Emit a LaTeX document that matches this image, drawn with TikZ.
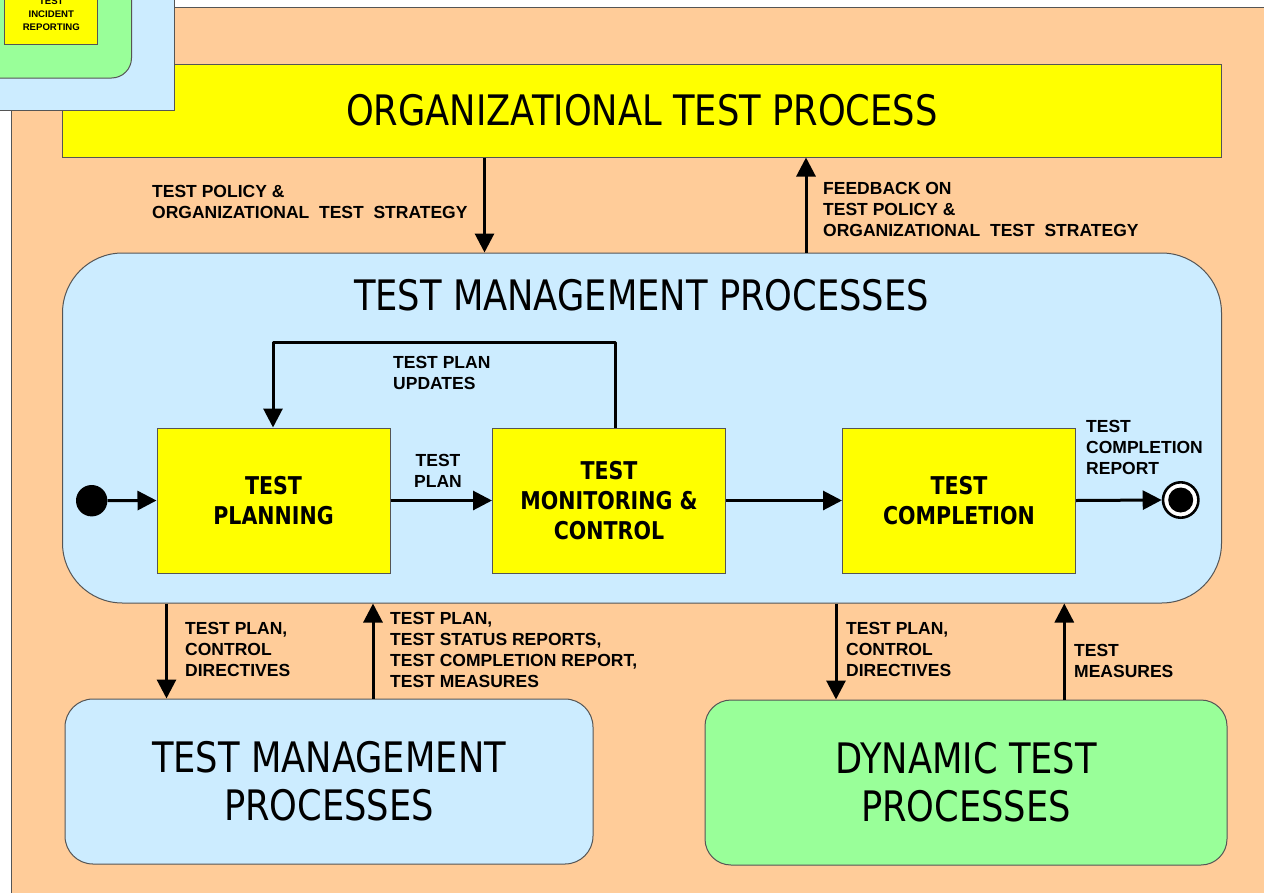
\documentclass[tikz,border=0pt]{standalone}
\usepackage{fontspec}
\setmainfont{Liberation Sans}
\newfontfamily\titlefont[FakeStretch=0.84]{DejaVu Sans}
\usetikzlibrary{arrows.meta}
\definecolor{peach}{HTML}{FFCC99}
\definecolor{lblue}{HTML}{CCECFF}
\definecolor{lgreen}{HTML}{99FF99}
\definecolor{yel}{HTML}{FFFF00}
\definecolor{edge}{HTML}{555555}
\tikzset{
  boxbase/.style={rectangle, draw=edge, line width=1pt, inner sep=0pt, align=center},
  ybox/.style={boxbase, fill=yel},
  stepbox/.style={ybox, minimum width=233pt, minimum height=145pt,
     font=\titlefont\bfseries\fontsize{24.5}{30}\selectfont},
  titletext/.style={font=\titlefont\fontsize{42}{48}\selectfont, inner sep=0pt, align=center},
  lbl/.style={font=\bfseries\fontsize{17.5}{21}\selectfont, inner sep=0pt, align=left, anchor=base west},
  arr/.style={line width=3pt, -{Triangle[width=19pt,length=19pt]}, line join=round},
}
\begin{document}
\begin{tikzpicture}[x=1pt,y=-1pt]
\useasboundingbox (0,0) rectangle (1264,892);
% page background
\fill[white] (0,0) rectangle (1264,892);
\draw[draw=edge, line width=1pt, fill=peach] (11,7) rectangle (1275,905);

% organizational test process
\node[ybox, minimum width=1159.5pt, minimum height=93pt, titletext] (org) at (641.75,110.5) {ORGANIZATIONAL TEST PROCESS};

% test management processes (big)
\node[boxbase, fill=lblue, rounded corners=60pt, minimum width=1159pt, minimum height=350pt] (tmp) at (642,428) {};
\node[titletext] (tmptitle) at (641.5,295) {TEST MANAGEMENT PROCESSES};

% steps
\node[stepbox] (plan) at (273.5,500.5) {TEST\\PLANNING};
\node[stepbox] (mon) at (609,500.5) {TEST\\MONITORING \&\\CONTROL};
\node[stepbox] (comp) at (959,500.5) {TEST\\COMPLETION};

\node[circle, fill=black, minimum size=31.4pt, inner sep=0pt] (start) at (91.7,500.7) {};
\node[circle, draw=black, line width=2.6pt, fill=white, minimum size=35.4pt, inner sep=0pt] (finish) at (1180.7,500) {};
\node[circle, fill=black, minimum size=25pt, inner sep=0pt] (finishdot) at (finish.center) {};

\draw[arr] (start.east) -- (plan.west);
\draw[arr] (plan.east) -- (mon.west);
\draw[arr] (mon.east) -- (comp.west);
\draw[arr] (comp.east) -- (finish.west);

\coordinate (lr) at (615.5,342);
\coordinate (ll) at (273,342);
\draw[arr] (lr |- mon.north) -- (lr) -- (ll) -- (ll |- plan.north);

% (multi-line labels: anchor=base sits on the last line's baseline)
\node[lbl] (lplanupd) at (393,389) {TEST PLAN\\UPDATES};
\node[lbl, align=center, anchor=base] (lplan) at (438,487) {TEST\\PLAN};
\node[lbl] (lcompl) at (1086,474) {TEST\\COMPLETION\\REPORT};

% bottom boxes
\node[boxbase, fill=lblue, rounded corners=28pt, minimum width=528pt, minimum height=165pt, titletext] (tmb) at (329,781.5) {TEST MANAGEMENT\\PROCESSES};
\node[boxbase, fill=lgreen, rounded corners=26pt, minimum width=522pt, minimum height=165pt, titletext] (dtp) at (966,782.5) {DYNAMIC TEST\\PROCESSES};

% vertical arrows top
\coordinate (a1) at (484.5,0);
\coordinate (a2) at (806,0);
\draw[arr] (a1 |- org.south) -- (a1 |- tmp.north);
\draw[arr] (a2 |- tmp.north) -- (a2 |- org.south);
\node[lbl] (lpolicy) at (152,218) {TEST POLICY \&\\ORGANIZATIONAL~ TEST~ STRATEGY};
\node[lbl] (lfeed) at (823,236) {FEEDBACK ON\\TEST POLICY \&\\ORGANIZATIONAL~ TEST~ STRATEGY};

% vertical arrows bottom
\coordinate (b1) at (166.5,0);
\coordinate (b2) at (373,0);
\coordinate (b3) at (836,0);
\coordinate (b4) at (1064.3,0);
\draw[arr] (b1 |- tmp.south) -- (b1 |- tmb.north);
\draw[arr] (b2 |- tmb.north) -- (b2 |- tmp.south);
\draw[arr] (b3 |- tmp.south) -- (b3 |- dtp.north);
\draw[arr] (b4 |- dtp.north) -- (b4 |- tmp.south);
\node[lbl] (ldir1) at (185,676) {TEST PLAN,\\CONTROL\\DIRECTIVES};
\node[lbl] (lrep) at (390,687) {TEST PLAN,\\TEST STATUS REPORTS,\\TEST COMPLETION REPORT,\\TEST MEASURES};
\node[lbl] (ldir2) at (846,676) {TEST PLAN,\\CONTROL\\DIRECTIVES};
\node[lbl] (lmeas) at (1074,677) {TEST\\MEASURES};

% top-left overlay (cut off at the picture's edge, as in the reference)
\node[boxbase, fill=lblue, minimum width=184pt, minimum height=120pt] (ovblue) at (82,50.5) {};
\node[boxbase, fill=lgreen, rounded corners=20pt, minimum width=171pt, minimum height=118pt] (ovgreen) at (46,19) {};
\node[ybox, minimum width=92.5pt, minimum height=54pt] (ovyellow) at (51,17) {};
\node[font=\bfseries\fontsize{9.6}{12.8}\selectfont, align=center, inner sep=0pt, anchor=base] (ovtext) at (51.3,30) {TEST\\INCIDENT\\REPORTING};
\end{tikzpicture}
\end{document}
